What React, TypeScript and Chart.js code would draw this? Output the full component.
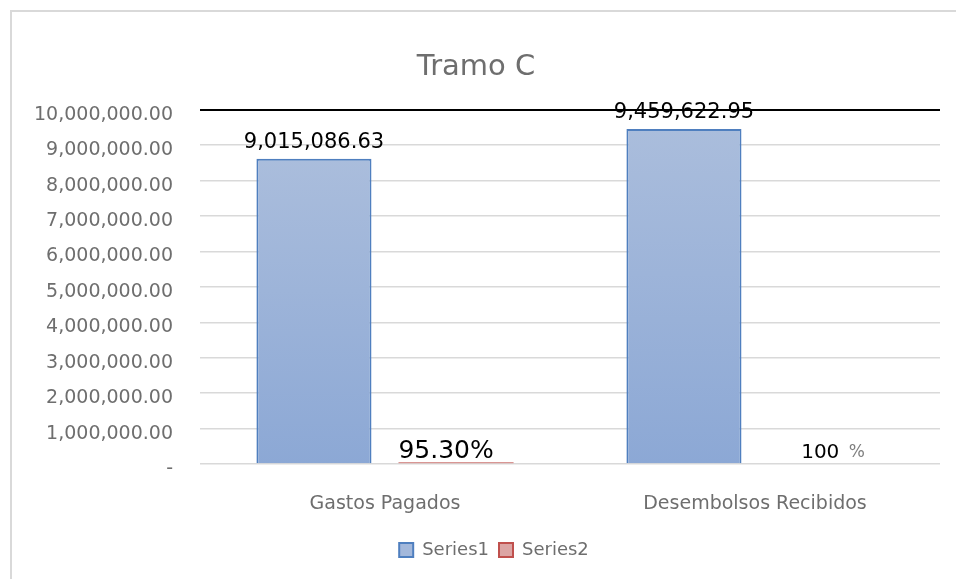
import React, { useEffect, useRef } from "react";
import { Chart, registerables } from "chart.js";

Chart.register(...registerables);

const chartTitle = "Tramo C";
const categories = ["Gastos Pagados", "Desembolsos Recibidos"];
const seriesNames = ["Series1", "Series2"];
const series1Values = [8620000, 9459622.95];
const series2Values: (number | null)[] = [95.3, null];
const series1Labels = ["9,015,086.63", "9,459,622.95"];
const series2Labels = ["95.30%", "100"];
const series2Suffix = ["", "%"];
const yMin = 0;
const yMax = 10000000;
const yStep = 1000000;

const FONT = "'DejaVu Sans', sans-serif";
const GRAY = "#6e6e6e";

export default function App() {
  const ref = useRef<HTMLCanvasElement>(null);

  useEffect(() => {
    const canvas = ref.current;
    if (!canvas) return;

    const blueFill = (ctx: any) => {
      const chart = ctx.chart;
      const ys = chart.scales && chart.scales.y;
      if (!ys || ctx.raw == null) return "#9fb5da";
      const top = ys.getPixelForValue(ctx.raw);
      const bottom = ys.getPixelForValue(0);
      if (!isFinite(top) || !isFinite(bottom) || top === bottom) return "#9fb5da";
      const g = chart.ctx.createLinearGradient(0, top, 0, bottom);
      g.addColorStop(0, "#aabddc");
      g.addColorStop(1, "#8ca8d5");
      return g;
    };

    const legendShift = {
      id: "legendShift",
      afterLayout(chart: any) {
        if (chart.legend) {
          chart.legend.left += 18;
          chart.legend.right += 18;
        }
      },
    };

    const labelsPlugin = {
      id: "dataLabels",
      afterDatasetsDraw(chart: any) {
        const c = chart.ctx;
        const ys = chart.scales.y;
        const area = chart.chartArea;
        const zero = ys.getPixelForValue(0);
        c.save();
        c.textBaseline = "alphabetic";
        c.textAlign = "center";
        const m0 = chart.getDatasetMeta(0);
        m0.data.forEach((bar: any, i: number) => {
          c.font = `21px ${FONT}`;
          c.fillStyle = "#000000";
          c.fillText(series1Labels[i], bar.x, bar.y - 10.5);
        });
        const m1 = chart.getDatasetMeta(1);
        m1.data.forEach((bar: any, i: number) => {
          const main = series2Labels[i];
          const suf = series2Suffix[i];
          const mainFont = i === 0 ? `25px ${FONT}` : `20px ${FONT}`;
          c.font = mainFont;
          const wMain = c.measureText(main).width;
          c.font = `17px ${FONT}`;
          const gap = suf ? c.measureText(" ").width + 4 : 0;
          const wSuf = suf ? c.measureText(suf).width : 0;
          const total = wMain + gap + wSuf;
          const cx = i === 0 ? bar.x - 10 : bar.x + 7;
          const x0 = cx - total / 2;
          c.textAlign = "left";
          c.font = mainFont;
          c.fillStyle = "#000000";
          c.fillText(main, x0, zero - 6);
          if (suf) {
            c.font = `17px ${FONT}`;
            c.fillStyle = "#7f7f7f";
            c.fillText(suf, x0 + wMain + gap, zero - 7);
          }
        });
        // top line drawn over the labels
        const yTop = Math.round(ys.getPixelForValue(yMax));
        c.beginPath();
        c.strokeStyle = "#000000";
        c.lineWidth = 2;
        c.moveTo(area.left, yTop);
        c.lineTo(area.right, yTop);
        c.stroke();
        c.restore();
      },
    };

    const chart = new Chart(canvas, {
      type: "bar",
      data: {
        labels: categories,
        datasets: [
          {
            label: seriesNames[0],
            data: series1Values,
            backgroundColor: blueFill,
            borderColor: "#4f7fbf",
            borderWidth: 2,
            categoryPercentage: 0.768,
            barPercentage: 0.81,
          },
          {
            label: seriesNames[1],
            data: series2Values,
            backgroundColor: "#d99694",
            borderColor: "#d99694",
            borderWidth: 0,
            minBarLength: 2,
            categoryPercentage: 0.768,
            barPercentage: 0.81,
          },
        ],
      },
      options: {
        animation: false,
        responsive: false,
        maintainAspectRatio: false,
        layout: { padding: { left: 12, right: 16, top: 50, bottom: 10 } },
        plugins: {
          title: {
            display: true,
            text: chartTitle,
            color: GRAY,
            font: { family: FONT, size: 29, weight: "normal" },
            padding: { top: 0, bottom: 25 },
          },
          legend: {
            position: "bottom",
            labels: {
              boxWidth: 14,
              boxHeight: 14,
              color: GRAY,
              font: { family: FONT, size: 18 },
              padding: 10,
              generateLabels: () => [
                {
                  text: seriesNames[0],
                  fillStyle: "#a3b8db",
                  strokeStyle: "#4f7fbf",
                  lineWidth: 2,
                  fontColor: GRAY,
                  hidden: false,
                  datasetIndex: 0,
                },
                {
                  text: seriesNames[1],
                  fillStyle: "#dca5a4",
                  strokeStyle: "#c0504d",
                  lineWidth: 2,
                  fontColor: GRAY,
                  hidden: false,
                  datasetIndex: 1,
                },
              ],
            },
          },
          tooltip: { enabled: false },
        },
        scales: {
          x: {
            grid: { display: false },
            border: { display: false },
            afterFit: (s: any) => {
              s.height = 67;
            },
            ticks: {
              color: GRAY,
              font: { family: FONT, size: 19 },
              padding: 21,
            },
          },
          y: {
            min: yMin,
            max: yMax,
            afterFit: (s: any) => {
              s.width = 188;
            },
            border: { display: false },
            grid: {
              drawTicks: false,
              color: (ctx: any) => (ctx.tick && ctx.tick.value === yMax ? "#000000" : "#d9d9d9"),
              lineWidth: (ctx: any) => (ctx.tick && ctx.tick.value === yMax ? 2 : 1.5),
            },
            ticks: {
              stepSize: yStep,
              padding: 27,
              labelOffset: 5,
              color: GRAY,
              font: { family: FONT, size: 19 },
              callback: (v: any) =>
                Number(v) === 0
                  ? "-"
                  : Number(v).toLocaleString("en-US", {
                      minimumFractionDigits: 2,
                      maximumFractionDigits: 2,
                    }),
            },
          },
        },
      },
      plugins: [labelsPlugin, legendShift],
    } as any);

    return () => chart.destroy();
  }, []);

  return (
    <div>
      <canvas
        ref={ref}
        width={956}
        height={579}
        style={{ position: "fixed", left: 0, top: 0, width: 956, height: 579 }}
      />
      <div
        style={{
          position: "fixed",
          left: 10,
          top: 10,
          width: 944,
          height: 567,
          borderLeft: "2px solid #d9d9d9",
          borderTop: "2px solid #d9d9d9",
          pointerEvents: "none",
        }}
      />
    </div>
  );
}
